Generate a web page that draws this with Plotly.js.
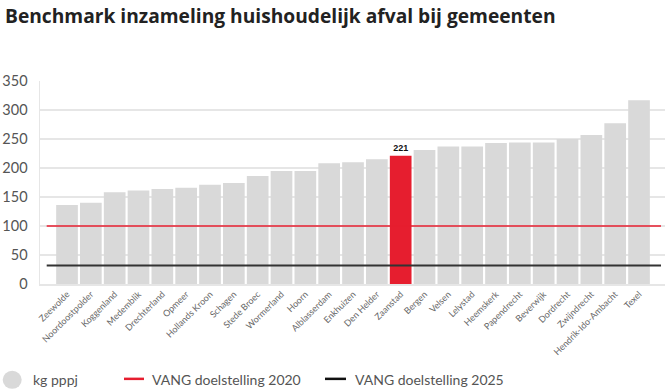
<!DOCTYPE html>
<html>
<head>
<meta charset="utf-8">
<script src="https://cdn.plot.ly/plotly-3.0.1.min.js"></script>
<style>html,body{margin:0;padding:0;background:#fff;}#chart{width:669px;height:389px;}</style>
</head>
<body>
<div id="chart"></div>
<script>
const gemeenten = ["Zeewolde","Noordoostpolder","Koggenland","Medemblik","Drechterland","Opmeer","Hollands Kroon","Schagen","Stede Broec","Wormerland","Hoorn","Alblasserdam","Enkhuizen","Den Helder","Zaanstad","Bergen","Velsen","Lelystad","Heemskerk","Papendrecht","Beverwijk","Dordrecht","Zwijndrecht","Hendrik-Ido-Ambacht","Texel"];
const kgPppj = [136,140,158,161,164,166,171,174,186,195,195,208,210,215,221,231,237,237,243,244,244,250,257,277,317];
const highlight = "Zaanstad";
const vang2020 = 100;
const vang2025 = 32;
const yTicks = [0,50,100,150,200,250,300,350];

const grey = "#d9d9d9", red = "#e61e2f";
const colors = gemeenten.map(g => g === highlight ? red : grey);
const labels = gemeenten.map((g,i) => g === highlight ? String(kgPppj[i]) : "");

const px = x => (x - 40) / 625;          // pixel -> paper x
const py = y => (284 - y) / 203.3;       // pixel -> paper y

const trace = {
  type: "bar", x: gemeenten, y: kgPppj,
  marker: {color: colors},
  text: labels, textposition: "outside", cliponaxis: false,
  textfont: {family: "Liberation Sans, Arial, sans-serif", size: 9, color: "#111", weight: "bold"},
  hoverinfo: "x+y", showlegend: false
};

const legendFont = {family: "Lato, sans-serif", size: 14, color: "#555"};

const layout = {
  width: 669, height: 389,
  margin: {l: 40, r: 4, t: 80.7, b: 105},
  paper_bgcolor: "#fff", plot_bgcolor: "#fff",
  bargap: 0.09,
  showlegend: false,
  title: {text: "<b>Benchmark inzameling huishoudelijk afval bij gemeenten</b>",
    font: {family: "Open Sans, sans-serif", size: 19.2, color: "#222"},
    x: 0, xref: "container", xanchor: "left", y: 1, yref: "container", yanchor: "top",
    pad: {t: 10, l: 5}},
  xaxis: {
    type: "category", range: [-1.133, 25.09],
    tickangle: -45, tickfont: {family: "Lato, sans-serif", size: 9, color: "#666"},
    showgrid: false, showline: true, linecolor: "#e6e6e6", linewidth: 1.5,
    ticks: "", fixedrange: true
  },
  yaxis: {
    range: [0, 350], tickvals: yTicks, ticktext: yTicks.map(String),
    tickfont: {family: "Lato, sans-serif", size: 14.5, color: "#555"},
    showgrid: true, gridcolor: "#e6e6e6", gridwidth: 1.5,
    showline: true, linecolor: "#e6e6e6", linewidth: 1.5,
    zeroline: false, ticks: "", ticklabelstandoff: 8, fixedrange: true
  },
  shapes: [
    {type: "line", xref: "paper", yref: "y", x0: px(46.7), x1: px(661), y0: vang2020, y1: vang2020,
     line: {color: red, width: 1.5}},
    {type: "line", xref: "paper", yref: "y", x0: px(46.7), x1: px(661), y0: vang2025, y1: vang2025,
     line: {color: "#333", width: 2}},
    {type: "circle", xref: "paper", yref: "paper", x0: px(2.7), x1: px(21.7), y0: py(389), y1: py(371),
     fillcolor: grey, line: {width: 0}},
    {type: "line", xref: "paper", yref: "paper", x0: px(124), x1: px(144), y0: py(379), y1: py(379),
     line: {color: red, width: 2.5}},
    {type: "line", xref: "paper", yref: "paper", x0: px(325), x1: px(346), y0: py(379), y1: py(379),
     line: {color: "#111", width: 2.5}}
  ],
  annotations: [
    {text: "kg pppj", xref: "paper", yref: "paper", x: px(31), y: py(380), xanchor: "left", yanchor: "middle", showarrow: false, font: legendFont},
    {text: "VANG doelstelling 2020", xref: "paper", yref: "paper", x: px(150), y: py(380), xanchor: "left", yanchor: "middle", showarrow: false, font: legendFont},
    {text: "VANG doelstelling 2025", xref: "paper", yref: "paper", x: px(353), y: py(380), xanchor: "left", yanchor: "middle", showarrow: false, font: legendFont}
  ]
};

Plotly.newPlot("chart", [trace], layout, {displayModeBar: false, staticPlot: true});
</script>
</body>
</html>
